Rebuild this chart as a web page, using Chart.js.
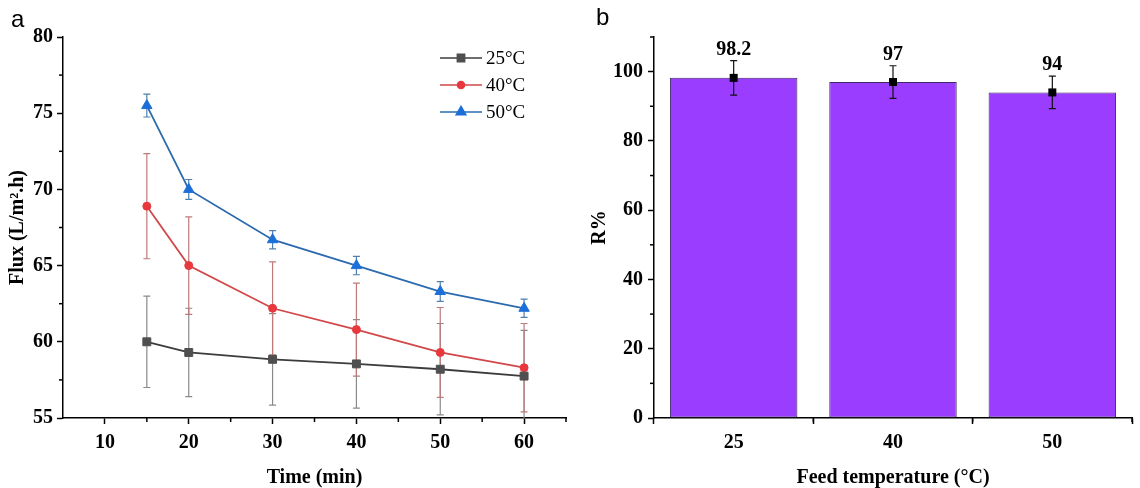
<!DOCTYPE html>
<html>
<head>
<meta charset="utf-8">
<script src="https://cdn.jsdelivr.net/npm/chart.js@4.4.0/dist/chart.umd.min.js"></script>
<style>
  html, body { margin: 0; padding: 0; background: #fff; }
  #wrap { position: relative; width: 1140px; height: 488px; overflow: hidden; }
  .panel { position: absolute; top: 0; height: 488px; }
  #left { left: 0; width: 580px; }
  #right { left: 580px; width: 560px; }
  .tag { position: absolute; font-family: "Liberation Sans", Arial, sans-serif; font-size: 24px; line-height: 1; }
</style>
</head>
<body>
<div id="wrap">
  <div class="panel" id="left"><canvas id="fluxChart"></canvas></div>
  <div class="panel" id="right"><canvas id="rejChart"></canvas></div>
  <div class="tag" style="left:11px; top:7px;">a</div>
  <div class="tag" style="left:596px; top:5px;">b</div>
</div>
<script>
// panel a: flux vs time
const times = [15, 20, 30, 40, 50, 60];
const flux25 = [60.0, 59.3, 58.85, 58.55, 58.2, 57.75];
const flux40 = [68.9, 65.0, 62.2, 60.8, 59.3, 58.3];
const flux50 = [75.5, 70.0, 66.7, 65.0, 63.3, 62.2];
const err25 = [3.0, 2.9, 3.0, 2.9, 3.0, 3.0];
const err40 = [3.45, 3.2, 3.05, 3.05, 2.95, 2.9];
const err50 = [0.75, 0.65, 0.6, 0.6, 0.65, 0.6];
const timeTicks = [10, 20, 30, 40, 50, 60];
const timeMinor = [15, 25, 35, 45, 55, 65];
const fluxTicks = [55, 60, 65, 70, 75, 80];
const fluxMinor = [57.5, 62.5, 67.5, 72.5, 77.5];

// panel b: rejection vs feed temperature
const temps = ['25', '40', '50'];
const rejection = [98.2, 97, 94];
const rejErr = [5.0, 4.7, 4.7];
const rejTicks = [0, 20, 40, 60, 80, 100];
const rejMinor = [10, 30, 50, 70, 90, 110];
const tempMinor = [0.5, 1.5, 2.5];

const serif = '"Liberation Serif", "Times New Roman", serif';
const tickFont = { family: serif, size: 20, weight: 'bold' };
const titleFont = { family: serif, size: 20, weight: 'bold', lineHeight: 1 };

const minorTicks = {
  id: 'minorTicks',
  afterDraw(chart, args, opts) {
    const ctx = chart.ctx, xs = chart.scales.x, ys = chart.scales.y;
    ctx.save();
    ctx.strokeStyle = '#000';
    ctx.lineWidth = 1.5;
    (opts.x || []).forEach(v => {
      const px = xs.getPixelForValue(v);
      ctx.beginPath(); ctx.moveTo(px, xs.top); ctx.lineTo(px, xs.top + 4); ctx.stroke();
    });
    (opts.y || []).forEach(v => {
      const py = ys.getPixelForValue(v);
      ctx.beginPath(); ctx.moveTo(ys.right, py); ctx.lineTo(ys.right - 4, py); ctx.stroke();
    });
    ctx.restore();
  }
};

function drawErr(ctx, x, top, bot, cap) {
  ctx.beginPath();
  ctx.moveTo(x, top); ctx.lineTo(x, bot);
  ctx.moveTo(x - cap, top); ctx.lineTo(x + cap, top);
  ctx.moveTo(x - cap, bot); ctx.lineTo(x + cap, bot);
  ctx.stroke();
}

const lineErrors = {
  id: 'lineErrors',
  beforeDatasetsDraw(chart) {
    const ctx = chart.ctx, ys = chart.scales.y, area = chart.chartArea;
    ctx.save();
    ctx.beginPath();
    ctx.rect(area.left, area.top - 10, area.right - area.left, area.bottom - area.top + 10);
    ctx.clip();
    chart.data.datasets.forEach((ds, i) => {
      const meta = chart.getDatasetMeta(i);
      ctx.strokeStyle = ds.errorColor;
      ctx.lineWidth = 1.2;
      meta.data.forEach((el, j) => {
        const v = ds.data[j].y;
        drawErr(ctx, el.x, ys.getPixelForValue(v + ds.errors[j]), ys.getPixelForValue(v - ds.errors[j]), 3.5);
      });
    });
    ctx.restore();
  }
};

const fluxLegend = {
  id: 'fluxLegend',
  afterDraw(chart, args, opts) {
    const ctx = chart.ctx;
    ctx.save();
    chart.data.datasets.forEach((ds, i) => {
      const y = opts.top + i * opts.gap;
      ctx.strokeStyle = ds.borderColor;
      ctx.lineWidth = 1.6;
      ctx.beginPath(); ctx.moveTo(opts.left, y); ctx.lineTo(opts.left + 42, y); ctx.stroke();
      ctx.fillStyle = ds.pointBackgroundColor;
      ctx.strokeStyle = ds.pointBackgroundColor;
      Chart.helpers.drawPoint(ctx, { pointStyle: ds.pointStyle, radius: ds.pointRadius - 0.5, rotation: 0, borderWidth: 1 }, opts.left + 21, y);
      ctx.fillStyle = '#000';
      ctx.font = '19px ' + serif;
      ctx.textAlign = 'left';
      ctx.textBaseline = 'middle';
      ctx.fillText(ds.label, opts.left + 46, y + 1);
    });
    ctx.restore();
  }
};

const barExtras = {
  id: 'barExtras',
  afterDatasetsDraw(chart) {
    const ctx = chart.ctx, ys = chart.scales.y;
    const ds = chart.data.datasets[0];
    const meta = chart.getDatasetMeta(0);
    ctx.save();
    meta.data.forEach((el, j) => {
      const v = ds.data[j];
      const top = ys.getPixelForValue(v + ds.errors[j]);
      ctx.strokeStyle = '#111';
      ctx.lineWidth = 1.2;
      drawErr(ctx, el.x, top, ys.getPixelForValue(v - ds.errors[j]), 3.5);
      ctx.fillStyle = '#000';
      ctx.fillRect(el.x - 4, ys.getPixelForValue(v) - 4, 8, 8);
      ctx.font = 'bold 20px ' + serif;
      ctx.textAlign = 'center';
      ctx.textBaseline = 'middle';
      ctx.fillText(String(v), el.x, top - 11);
    });
    ctx.restore();
  }
};

function axisStyle() {
  return {
    grid: { display: true, drawOnChartArea: false, drawTicks: true, tickLength: 6, tickWidth: 1.5, tickColor: '#000' },
    border: { display: true, color: '#000', width: 1.5 }
  };
}

const series = [
  { label: '25°C', y: flux25, err: err25, line: '#3c3c3c', mark: '#4f4f4f', errc: '#8a8a8a', style: 'rect', r: 5.6 },
  { label: '40°C', y: flux40, err: err40, line: '#d2474a', mark: '#e8383d', errc: '#bf7a7a', style: 'circle', r: 4 },
  { label: '50°C', y: flux50, err: err50, line: '#2b6aae', mark: '#1c6fd8', errc: '#4f7fae', style: 'triangle', r: 6 }
];

new Chart(document.getElementById('fluxChart'), {
  type: 'line',
  data: {
    datasets: series.map(s => ({
      label: s.label,
      data: times.map((t, i) => ({ x: t, y: s.y[i] })),
      errors: s.err,
      errorColor: s.errc,
      borderColor: s.line,
      borderWidth: 1.8,
      pointStyle: s.style,
      pointRadius: s.r,
      pointBackgroundColor: s.mark,
      pointBorderColor: s.mark,
      pointBorderWidth: 1,
      tension: 0
    }))
  },
  options: {
    responsive: true,
    maintainAspectRatio: false,
    animation: false,
    layout: { padding: { top: 37, right: 14, left: 0, bottom: 0 } },
    scales: {
      x: Object.assign(axisStyle(), {
        type: 'linear', min: 5, max: 65,
        afterBuildTicks: s => { s.ticks = timeTicks.map(v => ({ value: v })); },
        afterFit: s => { s.height = 70; },
        ticks: { font: tickFont, color: '#000', padding: 7 },
        title: { display: true, text: 'Time (min)', font: titleFont, color: '#000', padding: { top: 0, bottom: 0 } }
      }),
      y: Object.assign(axisStyle(), {
        min: 55, max: 80,
        afterBuildTicks: s => { s.ticks = fluxTicks.map(v => ({ value: v })); },
        afterFit: s => { s.width = 63; },
        ticks: { font: tickFont, color: '#000', padding: 4 },
        title: { display: true, text: 'Flux (L/m².h)', font: titleFont, color: '#000', padding: { top: 8, bottom: 0 } }
      })
    },
    plugins: {
      legend: { display: false },
      tooltip: { enabled: false },
      minorTicks: { x: timeMinor, y: fluxMinor },
      fluxLegend: { left: 440, top: 58, gap: 27 }
    }
  },
  plugins: [minorTicks, lineErrors, fluxLegend]
});

new Chart(document.getElementById('rejChart'), {
  type: 'bar',
  data: {
    labels: temps,
    datasets: [{
      label: 'R%',
      data: rejection,
      errors: rejErr,
      backgroundColor: '#9a3dfe',
      borderColor: '#3d2a66',
      borderWidth: 1,
      borderSkipped: false,
      barPercentage: 0.8,
      categoryPercentage: 1
    }]
  },
  options: {
    responsive: true,
    maintainAspectRatio: false,
    animation: false,
    layout: { padding: { top: 37, right: 8, left: 0, bottom: 0 } },
    scales: {
      x: Object.assign(axisStyle(), {
        afterFit: s => { s.height = 70; },
        ticks: { font: tickFont, color: '#000', padding: 7 },
        title: { display: true, text: 'Feed temperature (°C)', font: titleFont, color: '#000', padding: { top: 0, bottom: 0 } }
      }),
      y: Object.assign(axisStyle(), {
        min: 0, max: 110,
        afterBuildTicks: s => { s.ticks = rejTicks.map(v => ({ value: v })); },
        afterFit: s => { s.width = 74; },
        ticks: { font: tickFont, color: '#000', padding: 5 },
        title: { display: true, text: 'R%', font: titleFont, color: '#000', padding: { top: 10, bottom: 0 } }
      })
    },
    plugins: {
      legend: { display: false },
      tooltip: { enabled: false },
      minorTicks: { x: tempMinor, y: rejMinor }
    }
  },
  plugins: [minorTicks, barExtras]
});
</script>
</body>
</html>
